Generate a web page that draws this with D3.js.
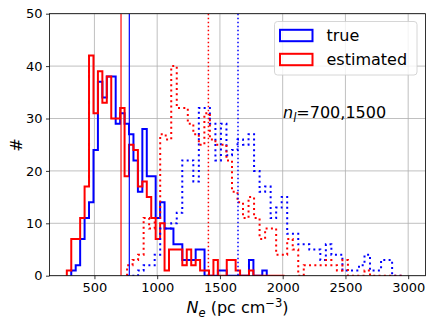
<!DOCTYPE html>
<html>
<head>
<meta charset="utf-8">
<script src="https://cdn.jsdelivr.net/npm/d3@7"></script>
<style>
  html, body { margin: 0; padding: 0; background: #fff; }
  svg { display: block; font-family: "DejaVu Sans", sans-serif; }
</style>
</head>
<body>
<svg id="chart" width="436" height="327"></svg>
<script>
// ---- data ----
const xTicks = [500, 1000, 1500, 2000, 2500, 3000];
const yTicks = [0, 10, 20, 30, 40, 50];
const legendLabels = ["true", "estimated"];
const annotation = "=700,1500";

// n_l = 700 histograms (solid)
const solidStart = 280, solidWidth = 35.4;
const redSolidCounts = [1,7,7,11,17,42,31,39,33,38,30,30,32,19,25,24,17,18,15,11,7,10,1,5,5,5,2,5,2,3,1,1,0,3,0,0,3,3,1,0,0,1,0,0,0,0,0,0,0];
const blueSolidStart = 315.4;
const blueSolidCounts = [1,2,7,11,14,24,37,34,38,38,29,31,29,27,22,16,28,19,19,11,14,9,9,6,6,3,3,3,5,5,0,0,0,1,1,0,0,0,0,0,3,0,0,1];

// n_l = 1500 histograms (dotted)
const dottedStart = 760, dottedWidth = 44.0;
const redDottedCounts = [2,3,4,11,9,11,27,26,40,32,32,29,27,25,31,26,25,25,22,16,14,11,15,11,7,9,9,4,4,7,5,0,2,2,2,2,3,2,1,3,0,0,0,1,0,0,0,0,0,0];
const blueDottedCounts = [0,0,1,2,2,4,9,9,10,12,22,22,18,32,32,29,22,29,23,24,26,25,27,20,16,17,11,13,15,8,8,6,6,5,5,3,6,4,4,1,1,1,2,4,1,1,3,3,0,0];

// vertical reference lines
const vlineRedSolid = 712, vlineBlueSolid = 778, vlineRedDotted = 1408, vlineBlueDotted = 1644;

// ---- layout ----
const svg = d3.select("#chart");
const L = 49.5, R = 425.5, T = 13.7, B = 275.7;
const x = d3.scaleLinear().domain([142, 3138]).range([L, R]);
const y = d3.scaleLinear().domain([0, 50]).range([B, T]);
const BLUE = "#0000ff", RED = "#ff0000";

svg.append("defs").append("clipPath").attr("id", "clip")
  .append("rect").attr("x", L).attr("y", T).attr("width", R - L).attr("height", B - T);

// grid
const grid = svg.append("g");
xTicks.forEach(t => grid.append("line").attr("x1", x(t)).attr("x2", x(t)).attr("y1", T).attr("y2", B)
  .attr("stroke", "#b0b0b0").attr("stroke-width", 0.8));
yTicks.forEach(t => grid.append("line").attr("x1", L).attr("x2", R).attr("y1", y(t)).attr("y2", y(t))
  .attr("stroke", "#b0b0b0").attr("stroke-width", 0.8));

const plot = svg.append("g").attr("clip-path", "url(#clip)");

function stepPoints(start, width, counts) {
  const pts = [[start, 0]];
  counts.forEach((c, i) => { pts.push([start + i * width, c]); pts.push([start + (i + 1) * width, c]); });
  pts.push([start + counts.length * width, 0]);
  return pts;
}
const line = d3.line().x(d => x(d[0])).y(d => y(d[1]));

function drawHist(start, width, counts, color, dotted) {
  const p = plot.append("path").attr("d", line(stepPoints(start, width, counts)))
    .attr("fill", "none").attr("stroke", color).attr("stroke-width", 2)
    .attr("stroke-linejoin", "miter");
  if (dotted) p.attr("stroke-dasharray", "2,3.3");
}
drawHist(blueSolidStart, solidWidth, blueSolidCounts, BLUE, false);
drawHist(solidStart, solidWidth, redSolidCounts, RED, false);
drawHist(dottedStart, dottedWidth, blueDottedCounts, BLUE, true);
drawHist(dottedStart, dottedWidth, redDottedCounts, RED, true);

function vline(v, color, dotted, w, op) {
  const l = plot.append("line").attr("x1", x(v)).attr("x2", x(v)).attr("y1", T).attr("y2", B)
    .attr("stroke", color).attr("stroke-width", w).attr("stroke-opacity", op);
  if (dotted) l.attr("stroke-dasharray", "1.5,2.5");
}
vline(vlineRedSolid, RED, false, 1.8, 0.65);
vline(vlineBlueSolid, BLUE, false, 1.2, 1);
vline(vlineRedDotted, RED, true, 1.5, 1);
vline(vlineBlueDotted, BLUE, true, 1.5, 1);

// axes
const xAxis = svg.append("g").attr("transform", `translate(0,${B})`)
  .call(d3.axisBottom(x).tickValues(xTicks).tickSize(3.5).tickPadding(3.5).tickFormat(d3.format("d")));
const yAxis = svg.append("g").attr("transform", `translate(${L},0)`)
  .call(d3.axisLeft(y).tickValues(yTicks).tickSize(3.5).tickPadding(3.5).tickFormat(d3.format("d")));
[xAxis, yAxis].forEach(a => {
  a.select(".domain").remove();
  a.selectAll("line").attr("stroke", "#000").attr("stroke-width", 0.8);
  a.selectAll("text").attr("font-family", "DejaVu Sans").attr("font-size", 13).attr("fill", "#000");
});
// frame
svg.append("rect").attr("x", L).attr("y", T).attr("width", R - L).attr("height", B - T)
  .attr("fill", "none").attr("stroke", "#000").attr("stroke-width", 0.8);

// axis labels
const xl = svg.append("text").attr("x", (L + R) / 2).attr("y", 313).attr("text-anchor", "middle")
  .attr("font-size", 16).attr("fill", "#000");
xl.append("tspan").attr("font-style", "italic").text("N");
xl.append("tspan").attr("font-style", "italic").attr("font-size", 11.5).attr("dy", 3.5).text("e");
xl.append("tspan").attr("dy", -3.5).text(" (pc cm");
xl.append("tspan").attr("font-size", 11.5).attr("dy", -6.5).text("−3");
xl.append("tspan").attr("dy", 6.5).text(")");

svg.append("text").attr("transform", "translate(22,145) rotate(-90)").attr("text-anchor", "middle")
  .attr("font-size", 16).attr("fill", "#000").text("#");

// annotation
const an = svg.append("text").attr("x", 283).attr("y", 118).attr("font-size", 16).attr("fill", "#000");
an.append("tspan").attr("font-style", "italic").text("n");
an.append("tspan").attr("font-style", "italic").attr("font-size", 11.5).attr("dy", 3.5).text("l");
an.append("tspan").attr("dy", -3.5).text(annotation);

// legend
const lg = svg.append("g");
lg.append("rect").attr("x", 274.5).attr("y", 21.5).attr("width", 142.5).attr("height", 53.5)
  .attr("rx", 3).attr("fill", "#fff").attr("fill-opacity", 0.8).attr("stroke", "#cccccc").attr("stroke-width", 0.8);
[BLUE, RED].forEach((c, i) => {
  const cy = 35.5 + i * 24;
  lg.append("rect").attr("x", 280).attr("y", cy - 5.7).attr("width", 32.5).attr("height", 11.4)
    .attr("fill", "none").attr("stroke", c).attr("stroke-width", 2);
  lg.append("text").attr("x", 326.5).attr("y", cy + 5.8).attr("font-size", 16).attr("fill", "#000")
    .text(legendLabels[i]);
});
</script>
</body>
</html>
